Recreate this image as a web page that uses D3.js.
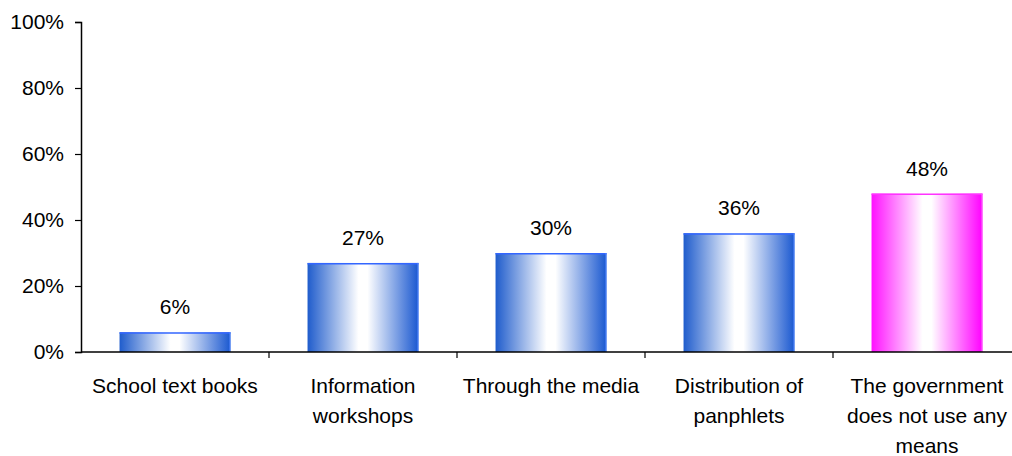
<!DOCTYPE html>
<html>
<head>
<meta charset="utf-8">
<script src="https://cdn.jsdelivr.net/npm/d3@7"></script>
<style>
  html, body { margin: 0; padding: 0; background: #fff; }
  svg { display: block; font-family: "Liberation Sans", Arial, sans-serif; }
</style>
</head>
<body>
<svg id="chart" width="1012" height="456"></svg>
<script>
// Share of respondents by information channel used by the government
const categories = [
  ["School text books"],
  ["Information", "workshops"],
  ["Through the media"],
  ["Distribution of", "panphlets"],
  ["The government", "does not use any", "means"]
];
const values = [6, 27, 30, 36, 48];
const yTicks = [0, 20, 40, 60, 80, 100];
const highlightIndex = 4;

const svg = d3.select("#chart");
const margin = { left: 81, top: 22, right: -9, bottom: 104 };
const W = 1012, H = 456;
const fontSize = 21;

const x = d3.scaleBand()
  .domain(d3.range(values.length))
  .range([margin.left, W - margin.right])
  .paddingInner(0.41)
  .paddingOuter(0.205);

const y = d3.scaleLinear()
  .domain([0, 100])
  .range([H - margin.bottom, margin.top]);

// Cylinder-like horizontal gradients
const defs = svg.append("defs");
function makeGrad(id, edgeL, mid, edgeR) {
  const g = defs.append("linearGradient").attr("id", id)
    .attr("x1", "0%").attr("x2", "100%").attr("y1", "0%").attr("y2", "0%");
  g.append("stop").attr("offset", "0%").attr("stop-color", edgeL);
  g.append("stop").attr("offset", "46%").attr("stop-color", mid);
  g.append("stop").attr("offset", "54%").attr("stop-color", mid);
  g.append("stop").attr("offset", "100%").attr("stop-color", edgeR);
}
makeGrad("gradBlue", "#1f5ccc", "#ffffff", "#1a58d0");
makeGrad("gradPink", "#ff10ff", "#ffffff", "#ff00ff");

// Bars
const bars = svg.append("g");
bars.selectAll("rect.bar")
  .data(values)
  .join("rect")
  .attr("class", "bar")
  .attr("x", (d, i) => x(i))
  .attr("y", d => y(d))
  .attr("width", x.bandwidth())
  .attr("height", d => y(0) - y(d))
  .attr("fill", (d, i) => i === highlightIndex ? "url(#gradPink)" : "url(#gradBlue)");

// Top edge highlight on each bar
bars.selectAll("line.top")
  .data(values)
  .join("line")
  .attr("x1", (d, i) => x(i))
  .attr("x2", (d, i) => x(i) + x.bandwidth())
  .attr("y1", d => y(d) + 0.75)
  .attr("y2", d => y(d) + 0.75)
  .attr("stroke", (d, i) => i === highlightIndex ? "#ff33ff" : "#3366ff")
  .attr("stroke-width", 1.5);

// Right edge highlight
bars.selectAll("line.side")
  .data(values)
  .join("line")
  .attr("x1", (d, i) => x(i) + x.bandwidth() - 0.5)
  .attr("x2", (d, i) => x(i) + x.bandwidth() - 0.5)
  .attr("y1", d => y(d))
  .attr("y2", y(0))
  .attr("stroke", (d, i) => i === highlightIndex ? "#ff66ff" : "#5588ff")
  .attr("stroke-width", 1);

// Value labels
svg.append("g").selectAll("text")
  .data(values)
  .join("text")
  .attr("x", (d, i) => x(i) + x.bandwidth() / 2)
  .attr("y", d => y(d) - 18)
  .attr("text-anchor", "middle")
  .attr("font-size", fontSize)
  .attr("fill", "#000")
  .text(d => d + "%");

// Y axis
const yAxis = d3.axisLeft(y)
  .tickValues(yTicks)
  .tickFormat(d => d + "%")
  .tickSize(6)
  .tickPadding(11);
const gy = svg.append("g")
  .attr("transform", `translate(${margin.left},0)`)
  .call(yAxis);
gy.select(".domain").attr("stroke", "#000").attr("stroke-width", 1.5);
gy.selectAll(".tick line").attr("stroke", "#000").attr("stroke-width", 1.2);
gy.selectAll(".tick text")
  .attr("font-size", fontSize)
  .attr("fill", "#000")
  .attr("font-family", "Liberation Sans, Arial, sans-serif");

// X axis: baseline with separators between categories
const gx = svg.append("g").attr("transform", `translate(0,${y(0)})`);
gx.append("line")
  .attr("x1", margin.left).attr("x2", W)
  .attr("y1", 0).attr("y2", 0)
  .attr("stroke", "#000").attr("stroke-width", 1.5);
const step = x.step();
gx.selectAll("line.sep")
  .data(d3.range(1, values.length))
  .join("line")
  .attr("class", "sep")
  .attr("x1", i => x(i) - x.paddingInner() * step / 2)
  .attr("x2", i => x(i) - x.paddingInner() * step / 2)
  .attr("y1", 0).attr("y2", 6)
  .attr("stroke", "#000").attr("stroke-width", 1.2);

// Category labels
const cat = svg.append("g").selectAll("text")
  .data(categories)
  .join("text")
  .attr("x", (d, i) => x(i) + x.bandwidth() / 2)
  .attr("y", y(0) + 41)
  .attr("text-anchor", "middle")
  .attr("font-size", fontSize)
  .attr("fill", "#000");
cat.each(function(lines, i) {
  const t = d3.select(this);
  lines.forEach((ln, k) => {
    t.append("tspan")
      .attr("x", x(i) + x.bandwidth() / 2)
      .attr("dy", k === 0 ? 0 : 30)
      .text(ln);
  });
});
</script>
</body>
</html>
